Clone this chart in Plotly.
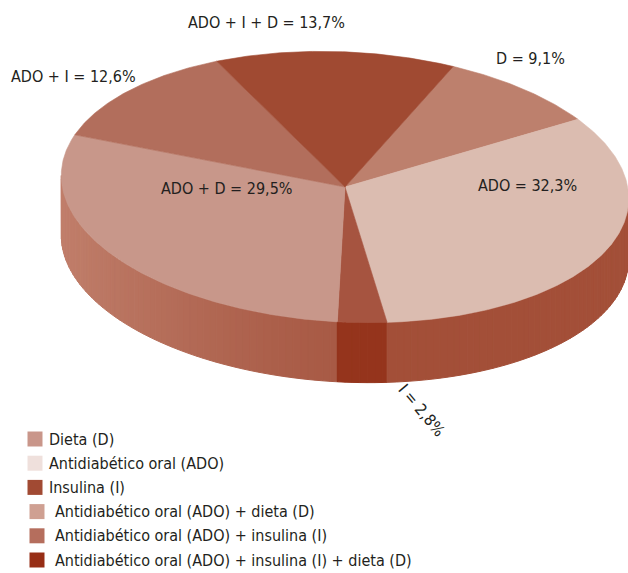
import numpy as np
import plotly.graph_objects as go

# ---------------- data ----------------
short_names = ["D", "ADO", "I", "ADO + D", "ADO + I", "ADO + I + D"]
legend_names = [
    "Dieta (D)",
    "Antidiabético oral (ADO)",
    "Insulina (I)",
    "Antidiabético oral (ADO) + dieta (D)",
    "Antidiabético oral (ADO) + insulina (I)",
    "Antidiabético oral (ADO) + insulina (I) + dieta (D)",
]
values = [9.1, 32.3, 2.8, 29.5, 12.6, 13.7]
value_text = ["9,1", "32,3", "2,8", "29,5", "12,6", "13,7"]

# ---------------- style ----------------
top_colors = ["#bd806d", "#dbbcb0", "#a65440", "#c8978a", "#b26e5c", "#a04a32"]
wall_colors = ["#a0503a", "#a34f38", "#95341c", "#a85a45", "#a85a45", "#a04a32"]
legend_colors = ["#c9968a", "#efe0dc", "#a14a33", "#cfa092", "#b56e5d", "#972e16"]
FONT = "DejaVu Sans Condensed, Liberation Sans Narrow, Roboto Condensed, Arial Narrow, sans-serif"
FS = 16

W, Hfig = 628, 573
CX, CY = 345, 187      # ellipse centre
A, B = 284, 135        # semi axes
DEPTH = 60             # wall height
PHI = np.radians(3.0)  # slight tilt
START = 69.0           # angle (deg) where first slice begins, going clockwise


def pt(tdeg, dz=0.0):
    t = np.radians(tdeg)
    u = A * np.cos(t)
    v = -B * np.sin(t)
    x = CX + u * np.cos(PHI) - v * np.sin(PHI)
    y = CY + u * np.sin(PHI) + v * np.cos(PHI) + dz
    return x, y


def hex2rgb(h):
    h = h.lstrip("#")
    return np.array([int(h[i:i + 2], 16) for i in (0, 2, 4)], dtype=float)


def mix(c1, c2, f):
    c = hex2rgb(c1) * (1 - f) + hex2rgb(c2) * f
    return "rgb(%d,%d,%d)" % tuple(np.round(c).astype(int))


# slice angular ranges (clockwise from START)
spans = [360.0 * v / sum(values) for v in values]
bounds = []
s = START
for w in spans:
    bounds.append((s - w, s))
    s -= w


def slice_of(tdeg):
    for i, (lo, hi) in enumerate(bounds):
        for k in (-720, -360, 0, 360, 720):
            if lo <= tdeg + k <= hi:
                return i
    return 0


fig = go.Figure()

# ---------- walls (front half) ----------
t0 = np.degrees(np.arctan(B * np.tan(PHI) / A))
front_lo, front_hi = t0 - 180.0, t0
edges = list(np.linspace(front_lo, front_hi, 121))
for lo, hi in bounds:
    for b in (lo, hi):
        for k in (-360, 0, 360):
            if front_lo < b + k < front_hi:
                edges.append(b + k)
edges = sorted(set(np.round(edges, 6)))
for ta, tb in zip(edges[:-1], edges[1:]):
    tm = 0.5 * (ta + tb)
    i = slice_of(tm)
    light = max(0.0, -np.cos(np.radians(tm))) ** 1.3 * 0.55
    col = mix(wall_colors[i], "#d49c8a", light)
    ts = np.linspace(ta, tb, 4)
    xs_top, ys_top = pt(ts)
    xs_bot, ys_bot = pt(ts[::-1], DEPTH)
    xs = np.concatenate([xs_top, xs_bot, xs_top[:1]])
    ys = np.concatenate([ys_top, ys_bot, ys_top[:1]])
    fig.add_trace(go.Scatter(x=xs, y=ys, mode="lines", fill="toself",
                             fillcolor=col, line=dict(color=col, width=1),
                             hoverinfo="skip", showlegend=False))

# ---------- top faces ----------
for i, (lo, hi) in enumerate(bounds):
    ts = np.linspace(hi, lo, max(8, int((hi - lo) * 2)))
    ax, ay = pt(ts)
    xs = np.concatenate([[CX], ax, [CX]])
    ys = np.concatenate([[CY], ay, [CY]])
    fig.add_trace(go.Scatter(x=xs, y=ys, mode="lines", fill="toself",
                             fillcolor=top_colors[i],
                             line=dict(color=top_colors[i], width=0.6),
                             hoverinfo="skip", showlegend=False, name=short_names[i]))

# ---------- slice labels ----------
label_pos = [(530, 58, 0), (527, 185, 0), (422, 410, 50), (226, 188, 0), (73, 76, 0), (266, 22, 0)]
for i, (lx, ly, ang) in enumerate(label_pos):
    fig.add_annotation(x=lx, y=ly, xref="x", yref="y", showarrow=False,
                       text=f"{short_names[i]} = {value_text[i]}%", textangle=ang,
                       font=dict(family=FONT, size=FS, color="#231f20"))

# ---------- legend ----------
row_y = [439 + 24.2 * k for k in range(len(legend_names))]
mk_x = [35 if k < 3 else 37 for k in range(len(legend_names))]
fig.add_trace(go.Scatter(x=mk_x, y=row_y, mode="markers",
                         marker=dict(symbol="square", size=15, color=legend_colors,
                                     line=dict(width=0)),
                         hoverinfo="skip", showlegend=False))
for k, name in enumerate(legend_names):
    fig.add_annotation(x=(47 if k < 3 else 53), y=row_y[k], xref="x", yref="y",
                       xanchor="left", showarrow=False, text=name,
                       font=dict(family=FONT, size=FS, color="#231f20"))

fig.update_layout(
    width=W, height=Hfig, autosize=False,
    margin=dict(l=0, r=0, t=0, b=0),
    paper_bgcolor="white", plot_bgcolor="white",
    showlegend=False,
    xaxis=dict(range=[0, W], visible=False, fixedrange=True),
    yaxis=dict(range=[Hfig, 0], visible=False, fixedrange=True),
)

fig.write_html("out.html")
